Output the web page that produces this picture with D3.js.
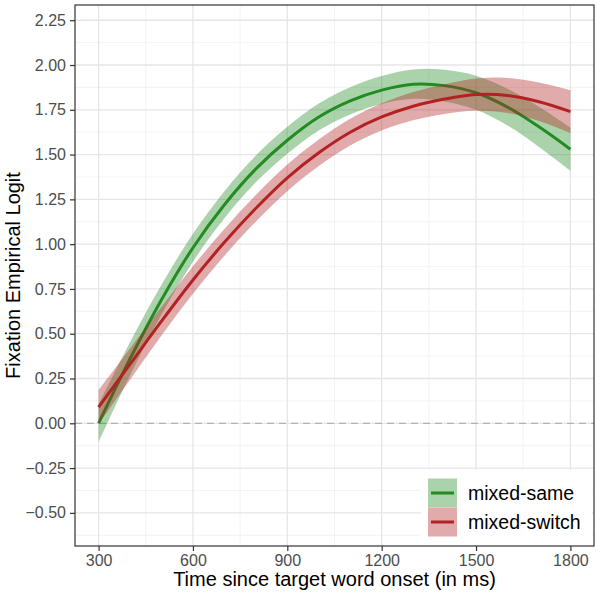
<!DOCTYPE html>
<html>
<head>
<meta charset="utf-8">
<script src="https://cdn.jsdelivr.net/npm/d3@7"></script>
<style>
  body { margin: 0; background: #fff; }
  text { font-family: "Liberation Sans", Arial, sans-serif; }
</style>
</head>
<body>
<svg id="chart"></svg>
<script>
// time points (ms) of the smoothed fits
const times = [300, 400, 500, 600, 700, 800, 900, 1000, 1100, 1200, 1300, 1400, 1500, 1600, 1700, 1800];

// mixed-same: fitted logit and half width of the band
const sameFit = [0.00, 0.36, 0.69, 0.98, 1.22, 1.42, 1.58, 1.71, 1.80, 1.86, 1.893, 1.885, 1.845, 1.765, 1.655, 1.53];
const sameCi  = [0.105, 0.092, 0.083, 0.078, 0.076, 0.075, 0.075, 0.075, 0.076, 0.078, 0.082, 0.088, 0.095, 0.103, 0.112, 0.12];

// mixed-switch
const switchFit = [0.09, 0.33, 0.57, 0.80, 1.01, 1.20, 1.37, 1.51, 1.625, 1.71, 1.77, 1.81, 1.835, 1.83, 1.795, 1.74];
const switchCi  = [0.095, 0.087, 0.08, 0.077, 0.075, 0.074, 0.074, 0.074, 0.075, 0.076, 0.079, 0.083, 0.09, 0.098, 0.108, 0.12];

const conditions = ["mixed-same", "mixed-switch"];
const lineColors = ["#228B22", "#B22222"];

const xTicks = [300, 600, 900, 1200, 1500, 1800];
const yTicks = [-0.5, -0.25, 0, 0.25, 0.5, 0.75, 1, 1.25, 1.5, 1.75, 2, 2.25];

const width = 600, height = 600;
const panel = {left: 75, right: 594, top: 5, bottom: 546};

const svg = d3.select("#chart")
    .attr("width", width)
    .attr("height", height)
    .attr("viewBox", [0, 0, width, height]);

const x = d3.scaleLinear().domain([225, 1875]).range([panel.left, panel.right]);
const y = d3.scaleLinear().domain([-0.685, 2.335]).range([panel.bottom, panel.top]);

// minor grid breaks halfway between majors (plus one beyond, like ggplot)
const xStep = xTicks[1] - xTicks[0];
const xMinor = d3.range(xTicks[0] - xStep / 2, xTicks[xTicks.length - 1] + xStep, xStep)
    .filter(v => v > x.domain()[0] && v < x.domain()[1]);
const yStep = yTicks[1] - yTicks[0];
const yMinor = d3.range(yTicks[0] - yStep / 2, yTicks[yTicks.length - 1] + yStep, yStep)
    .filter(v => v > y.domain()[0] && v < y.domain()[1]);

// grid
const grid = svg.append("g");
grid.selectAll(".xminor").data(xMinor).join("line")
    .attr("x1", d => x(d)).attr("x2", d => x(d))
    .attr("y1", panel.top).attr("y2", panel.bottom)
    .attr("stroke", "#f0f0f0").attr("stroke-width", 0.8);
grid.selectAll(".yminor").data(yMinor).join("line")
    .attr("x1", panel.left).attr("x2", panel.right)
    .attr("y1", d => y(d)).attr("y2", d => y(d))
    .attr("stroke", "#f0f0f0").attr("stroke-width", 0.8);
grid.selectAll(".xmajor").data(xTicks).join("line")
    .attr("x1", d => x(d)).attr("x2", d => x(d))
    .attr("y1", panel.top).attr("y2", panel.bottom)
    .attr("stroke", "#e6e6e6").attr("stroke-width", 1.3);
grid.selectAll(".ymajor").data(yTicks).join("line")
    .attr("x1", panel.left).attr("x2", panel.right)
    .attr("y1", d => y(d)).attr("y2", d => y(d))
    .attr("stroke", "#e6e6e6").attr("stroke-width", 1.3);

// zero reference line
svg.append("line")
    .attr("x1", panel.left).attr("x2", panel.right)
    .attr("y1", y(0)).attr("y2", y(0))
    .attr("stroke", "#b3b3b3").attr("stroke-width", 1.2)
    .attr("stroke-dasharray", "7,5");

const series = [
    {name: conditions[0], fit: sameFit, ci: sameCi, color: lineColors[0]},
    {name: conditions[1], fit: switchFit, ci: switchCi, color: lineColors[1]}
].map(s => ({...s, pts: times.map((t, i) => ({t, v: s.fit[i], lo: s.fit[i] - s.ci[i], hi: s.fit[i] + s.ci[i]}))}));

const area = d3.area()
    .x(d => x(d.t)).y0(d => y(d.lo)).y1(d => y(d.hi))
    .curve(d3.curveCatmullRom.alpha(0.5));
const line = d3.line()
    .x(d => x(d.t)).y(d => y(d.v))
    .curve(d3.curveCatmullRom.alpha(0.5));

// ribbon then line per group, like geom_smooth
series.forEach(s => {
    svg.append("path").datum(s.pts)
        .attr("d", area)
        .attr("fill", s.color).attr("fill-opacity", 0.38);
    svg.append("path").datum(s.pts)
        .attr("d", line)
        .attr("fill", "none")
        .attr("stroke", s.color).attr("stroke-width", 3);
});

// legend (inside panel, bottom right)
const legend = svg.append("g");
legend.append("rect")
    .attr("x", 421).attr("y", 470).attr("width", 171).attr("height", 75)
    .attr("fill", "#fff");
const key = legend.selectAll("g.key").data(series).join("g")
    .attr("transform", (d, i) => `translate(428,${478.5 + i * 29})`);
key.append("rect").attr("width", 29).attr("height", 29).attr("fill", "#fff");
key.append("rect").attr("width", 29).attr("height", 29)
    .attr("fill", d => d.color).attr("fill-opacity", 0.38);
key.append("line")
    .attr("x1", 3).attr("x2", 26).attr("y1", 14.5).attr("y2", 14.5)
    .attr("stroke", d => d.color).attr("stroke-width", 3);
key.append("text")
    .attr("x", 40).attr("y", 14.5).attr("dy", "0.36em")
    .attr("font-size", 19.5).attr("fill", "#000")
    .text(d => d.name);

// panel border
svg.append("rect")
    .attr("x", panel.left).attr("y", panel.top)
    .attr("width", panel.right - panel.left).attr("height", panel.bottom - panel.top)
    .attr("fill", "none").attr("stroke", "#333").attr("stroke-width", 1.2);

// axes
const xAxis = svg.append("g")
    .attr("transform", `translate(0,${panel.bottom})`)
    .call(d3.axisBottom(x).tickValues(xTicks).tickSize(5).tickPadding(4).tickFormat(d3.format("d")));
const yAxis = svg.append("g")
    .attr("transform", `translate(${panel.left},0)`)
    .call(d3.axisLeft(y).tickValues(yTicks).tickSize(5).tickPadding(4).tickFormat(d3.format(".2f")));
[xAxis, yAxis].forEach(a => {
    a.select(".domain").remove();
    a.selectAll(".tick line").attr("stroke", "#333").attr("stroke-width", 1.2);
    a.selectAll(".tick text")
        .attr("fill", "#4d4d4d")
        .attr("font-size", 16)
        .attr("font-family", "Liberation Sans, Arial, sans-serif");
});

// axis titles
svg.append("text")
    .attr("x", (panel.left + panel.right) / 2).attr("y", 586)
    .attr("text-anchor", "middle")
    .attr("font-size", 20).attr("fill", "#000")
    .text("Time since target word onset (in ms)");
svg.append("text")
    .attr("transform", `translate(20,${(panel.top + panel.bottom) / 2}) rotate(-90)`)
    .attr("text-anchor", "middle")
    .attr("font-size", 20).attr("fill", "#000")
    .text("Fixation Empirical Logit");
</script>
</body>
</html>
